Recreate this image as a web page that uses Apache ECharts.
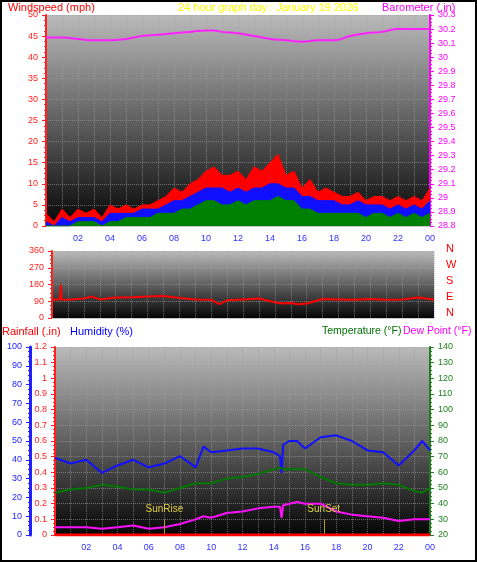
<!DOCTYPE html>
<html><head><meta charset="utf-8">
<script src="https://cdn.jsdelivr.net/npm/echarts@6/dist/echarts.min.js"></script>
<style>
html,body{margin:0;padding:0;background:#fff;}
#chartDiv{width:473px;height:558px;border:2px solid #000;}
</style></head>
<body><div id="chartDiv"></div>
<script>
// half-hourly wind (mph)
var windHours = [];
for (var h = 0; h <= 48; h++) windHours.push(h / 2);
var windGust = [3,1,4,2,4,3,4,2,5,4,5,4,5,5,6,7,9,8,10,11,13,14,12,12,13,11,14,13,15,17,12,13,9,11,8,9,8,7,7,8,6,7,7,6,7,6,7,6,9];
var windAvg  = [1,0,2,1,2,2,2,1,3,3,3,3,4,4,4,5,6,6,7,8,9,9,9,8,9,8,9,9,10,10,9,9,7,7,6,6,6,5,5,6,5,5,5,4,5,4,5,4,6];
var windLow  = [0,0,0,0,1,1,1,0,1,1,2,2,2,2,3,3,3,4,4,5,6,6,5,5,6,5,6,6,6,7,6,6,4,4,3,3,3,3,3,3,2,3,3,2,3,2,3,2,3];

var baroHours = [0,1,2,3,4,5,6,7,8,9,10,10.5,11,12,13,14,15,16,17,18,19,20,21,22,23,24];
var baro = [30.14,30.14,30.13,30.12,30.12,30.13,30.15,30.16,30.17,30.18,30.19,30.19,30.18,30.17,30.15,30.13,30.12,30.11,30.12,30.12,30.15,30.17,30.18,30.2,30.2,30.2];

var dirHours = [0,0.5,0.55,0.6,1,2,2.5,3,4,5,6,7,8,9,10,10.5,11,12,13,14,14.5,15,15.5,16,17,18,19,20,21,22,23,24];
var windDir = [100,100,180,100,98,105,115,100,110,112,115,118,108,100,98,75,95,100,105,85,78,80,74,78,102,100,98,102,98,100,110,100];

var hrHours = [0,1,2,3,4,5,6,7,8,9,9.5,10,11,12,13,14,14.4,14.5,14.6,15,15.5,16,17,18,19,20,21,22,23,23.5,24];
var humidity = [41,38,40,33,37,40,36,38,42,36,47,44,45,46,46,44,42,33,48,50,50,46,52,53,50,45,44,37,45,50,45];
var temperature = [47,49,50,52,51,49,49,47,50,53,53,53,56,57,59,62,63,64,62,62,62,62,57,53,52,52,53,52,48,47,50];
var dewPoint = [25,25,25,24,25,26,24,25,27,30,32,31,34,35,37,38,38,31,39,40,41,40,40,35,33,32,31,29,30,30,30];
var rainfall = [0,0,0,0,0,0,0,0,0,0,0,0,0,0,0,0,0,0,0,0,0,0,0,0,0,0,0,0,0,0,0];

var sunRise = 7.0, sunSet = 17.2;
var xTicks = ['02','04','06','08','10','12','14','16','18','20','22','00'];

function pairs(xs, ys) { return xs.map(function (x, i) { return [x, ys[i]]; }); }

var font = 'Liberation Sans';
var bg = new echarts.graphic.LinearGradient(0, 0, 0, 1, [
    {offset: 0, color: '#bababa'}, {offset: 0.5, color: '#606060'}, {offset: 1, color: '#050505'}]);
var split = {show: true, lineStyle: {color: '#a0a0a0', type: 'dotted', opacity: 0.6}};

function xAxis(idx, showLabel) {
    return {type: 'value', gridIndex: idx, min: 0, max: 24, interval: 1,
        axisLine: {lineStyle: {color: '#c8c8c8'}}, axisTick: {show: false},
        axisLabel: {show: showLabel, color: '#3030ff', fontSize: 9, fontFamily: font,
            formatter: function (v) { return (v > 0 && v % 2 === 0) ? xTicks[v / 2 - 1] : ''; }},
        splitLine: split};
}
function yAxis(idx, pos, min, max, interval, color, extra) {
    var a = {type: 'value', gridIndex: idx, position: pos, min: min, max: max, interval: interval,
        axisLine: {show: true, lineStyle: {color: color, width: 2}},
        axisTick: {show: true, length: 4, lineStyle: {color: color}},
        minorTick: {show: true, splitNumber: 4, length: 2, lineStyle: {color: color}},
        axisLabel: {color: color, fontSize: 9, fontFamily: font}, splitLine: {show: false}};
    for (var k in extra) a[k] = extra[k];
    return a;
}

var myChart = echarts.init(document.getElementById('chartDiv'));
myChart.setOption({
    animation: false,
    backgroundColor: '#fff',
    grid: [
        {left: 44, top: 13, width: 384, height: 211, show: true, backgroundColor: bg, borderWidth: 0},
        {left: 50, top: 249, width: 382, height: 67, show: true, backgroundColor: bg, borderWidth: 0},
        {left: 53, top: 345, width: 375, height: 188, show: true, backgroundColor: bg, borderWidth: 0}
    ],
    xAxis: [xAxis(0, true), xAxis(1, false), xAxis(2, true)],
    yAxis: [
        yAxis(0, 'left', 0, 50, 5, '#ff2020', {splitLine: split}),
        yAxis(0, 'right', 28.8, 30.3, 0.1, '#ff00ff', {axisLabel: {color: '#ff00ff', fontSize: 9, fontFamily: font,
            formatter: function (v) { return v.toFixed(1).replace(/\.0$/, ''); }}}),
        yAxis(1, 'left', 0, 360, 90, '#ff2020', {splitLine: split}),
        yAxis(2, 'left', 0, 1.2, 0.1, '#ff2020', {splitLine: split, axisLabel: {color: '#ff2020', fontSize: 9, fontFamily: font,
            formatter: function (v) { return +v.toFixed(1) + ''; }}}),
        yAxis(2, 'left', 0, 100, 10, '#2020ff', {offset: 25, axisLine: {show: true, lineStyle: {color: '#2020ff', width: 3}}}),
        yAxis(2, 'right', 20, 140, 10, '#208020', {})
    ],
    graphic: [
        {type: 'text', left: 6, top: 0, style: {text: 'Windspeed (mph)', fill: '#ff0000', font: '11px ' + font}},
        {type: 'text', left: 176, top: 0, style: {text: '24 hour graph day : January 19 2026', fill: '#ffff00', font: '11px ' + font}},
        {type: 'text', left: 380, top: 0, style: {text: 'Barometer (.in)', fill: '#ff00ff', font: '11px ' + font}},
        {type: 'text', left: 444, top: 241, style: {text: 'N\n\nW\n\nS\n\nE\n\nN', fill: '#ff0000', font: '11px ' + font, lineHeight: 8}},
        {type: 'text', left: 0, top: 324, style: {text: 'Rainfall (.in)', fill: '#ff0000', font: '11px ' + font}},
        {type: 'text', left: 68, top: 324, style: {text: 'Humidity (%)', fill: '#0000ff', font: '11px ' + font}},
        {type: 'text', left: 320, top: 324, style: {text: 'Temperature (°F)', fill: '#007000', font: '10.5px ' + font}},
        {type: 'text', left: 401, top: 324, style: {text: 'Dew Point (°F)', fill: '#ff00ff', font: '10.5px ' + font}}
    ],
    series: [
        {type: 'line', xAxisIndex: 0, yAxisIndex: 0, data: pairs(windHours, windGust), symbol: 'none',
            lineStyle: {color: '#ff0000', width: 1}, areaStyle: {color: '#ff0000', opacity: 1}},
        {type: 'line', xAxisIndex: 0, yAxisIndex: 0, data: pairs(windHours, windAvg), symbol: 'none',
            lineStyle: {color: '#1010ff', width: 1}, areaStyle: {color: '#1010ff', opacity: 1}},
        {type: 'line', xAxisIndex: 0, yAxisIndex: 0, data: pairs(windHours, windLow), symbol: 'none',
            lineStyle: {color: '#008000', width: 1}, areaStyle: {color: '#008000', opacity: 1}},
        {type: 'line', xAxisIndex: 0, yAxisIndex: 1, data: pairs(baroHours, baro), symbol: 'none', smooth: true,
            lineStyle: {color: '#ff20ff', width: 2}},
        {type: 'line', xAxisIndex: 1, yAxisIndex: 2, data: pairs(dirHours, windDir), symbol: 'none',
            lineStyle: {color: '#ff0000', width: 2}},
        {type: 'line', xAxisIndex: 2, yAxisIndex: 3, data: pairs(hrHours, rainfall), symbol: 'none', z: 5,
            lineStyle: {color: '#ff0000', width: 3},
            markLine: {symbol: 'none', silent: true,
                lineStyle: {color: '#b0a020', type: 'solid', width: 1},
                label: {position: 'end', color: '#e0d040', fontSize: 10, fontFamily: font},
                data: [
                    [{coord: [sunRise, 0]}, {coord: [sunRise, 0.1], label: {formatter: 'SunRise'}}],
                    [{coord: [sunSet, 0]}, {coord: [sunSet, 0.1], label: {formatter: 'SunSet'}}]
                ]}},
        {type: 'line', xAxisIndex: 2, yAxisIndex: 4, data: pairs(hrHours, humidity), symbol: 'none',
            lineStyle: {color: '#1010ff', width: 2}},
        {type: 'line', xAxisIndex: 2, yAxisIndex: 5, data: pairs(hrHours, temperature), symbol: 'none',
            lineStyle: {color: '#007800', width: 2}},
        {type: 'line', xAxisIndex: 2, yAxisIndex: 5, data: pairs(hrHours, dewPoint), symbol: 'none',
            lineStyle: {color: '#ff10ff', width: 2}}
    ]
});
window.onresize = myChart.resize;
</script></body></html>
